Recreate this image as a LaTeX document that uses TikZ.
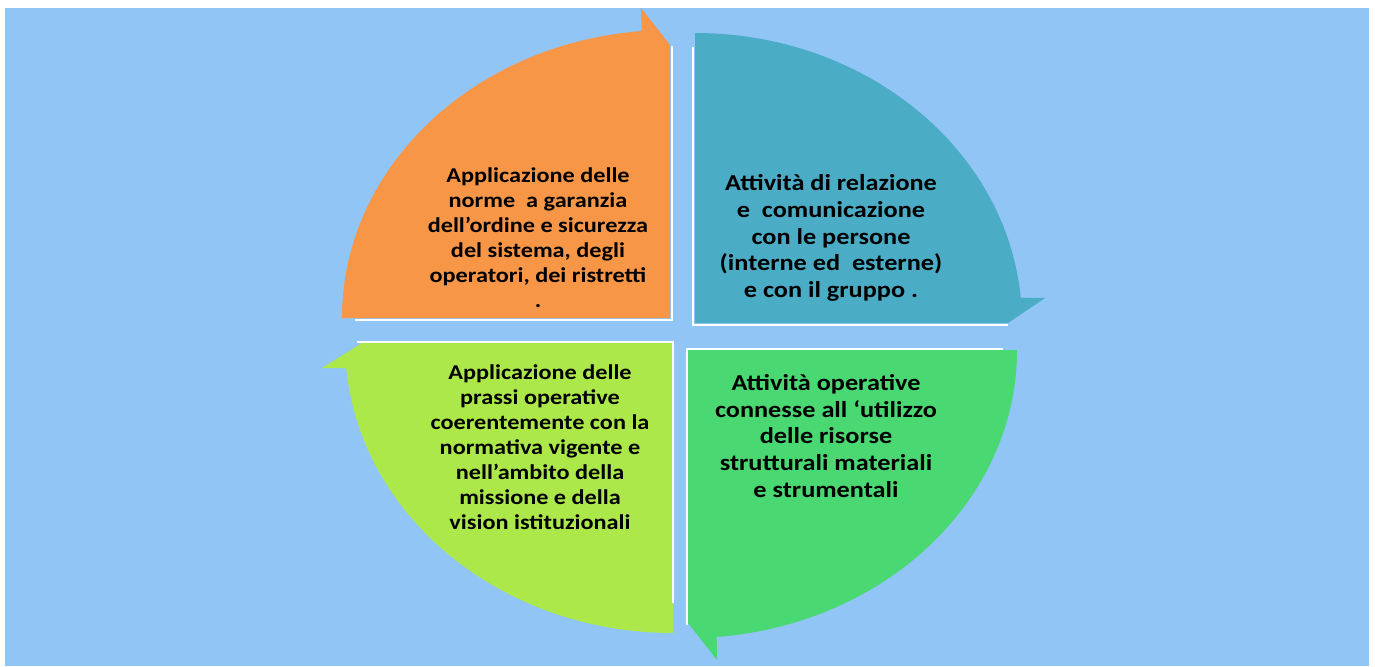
\documentclass[tikz,border=0pt]{standalone}
\usepackage{fontspec}
\setmainfont{Carlito}[FakeStretch=1.15]
\usepackage{tikz}
\definecolor{bgblue}{HTML}{91C5F5}
\definecolor{qorange}{HTML}{F79646}
\definecolor{qteal}{HTML}{4BACC6}
\definecolor{qgreen}{HTML}{4AD873}
\definecolor{qlime}{HTML}{ACE84A}
\tikzset{%
    quadtext/.style={align=center, inner sep=0pt, font=\bfseries\fontsize{12}{14.2}\selectfont},
    bigtext/.style={quadtext, font=\bfseries\fontsize{13}{15.2}\selectfont},
    edgeline/.style={white, line width=1.4pt},
}

\begin{document}
\begin{tikzpicture}[x=0.02cm, y=-0.02cm]
	\useasboundingbox (0,0) rectangle (1375,666);
	\fill[bgblue] (5,8) rectangle (1369,666);

	% four quarters, each ending in a barb
	\fill[qorange] (670,318) -- (342,318) arc[start angle=-180, end angle=-95, x radius=328, y radius=288] -- (641,8) -- (670,45) -- cycle;
	\fill[qteal] (695,323) -- (695,33) arc[start angle=-90, end angle=-5, x radius=327, y radius=290] -- (1045,298) -- (1008,323) -- cycle;
	\fill[qgreen] (688,350) -- (1017,350) arc[start angle=0, end angle=85, x radius=329, y radius=288] -- (717,660) -- (688,623) -- cycle;
	\fill[qlime] (673,343) -- (673,633) arc[start angle=90, end angle=175, x radius=328, y radius=290] -- (322,368) -- (362,343) -- cycle;

	\draw[edgeline] (355,320) -- (672,320) -- (672,46);
	\draw[edgeline] (693,47) -- (693,325) -- (1008,325);
	\draw[edgeline] (357,342) -- (673,342) -- (673,603);
	\draw[edgeline] (687,625) -- (687,349) -- (1003,349);

	\node[quadtext] (norme) at (538,238) {Applicazione delle\\norme\ \ a garanzia\\dell’ordine e sicurezza\\del sistema, degli\\operatori, dei ristretti\\.};
	\node[bigtext] (relazione) at (831,238) {Attività di relazione\\e\ \ comunicazione\\con le persone\\(interne ed\ \ esterne)\\e con il gruppo .};
	\node[bigtext] (operative) at (826,436) {Attività operative\\connesse all ‘utilizzo\\delle risorse\\strutturali materiali\\e strumentali};
	\node[quadtext] (prassi) at (540,447) {Applicazione delle\\prassi operative\\coerentemente con la\\normativa vigente e\\nell’ambito della\\missione e della\\vision istituzionali};
\end{tikzpicture}
\end{document}
